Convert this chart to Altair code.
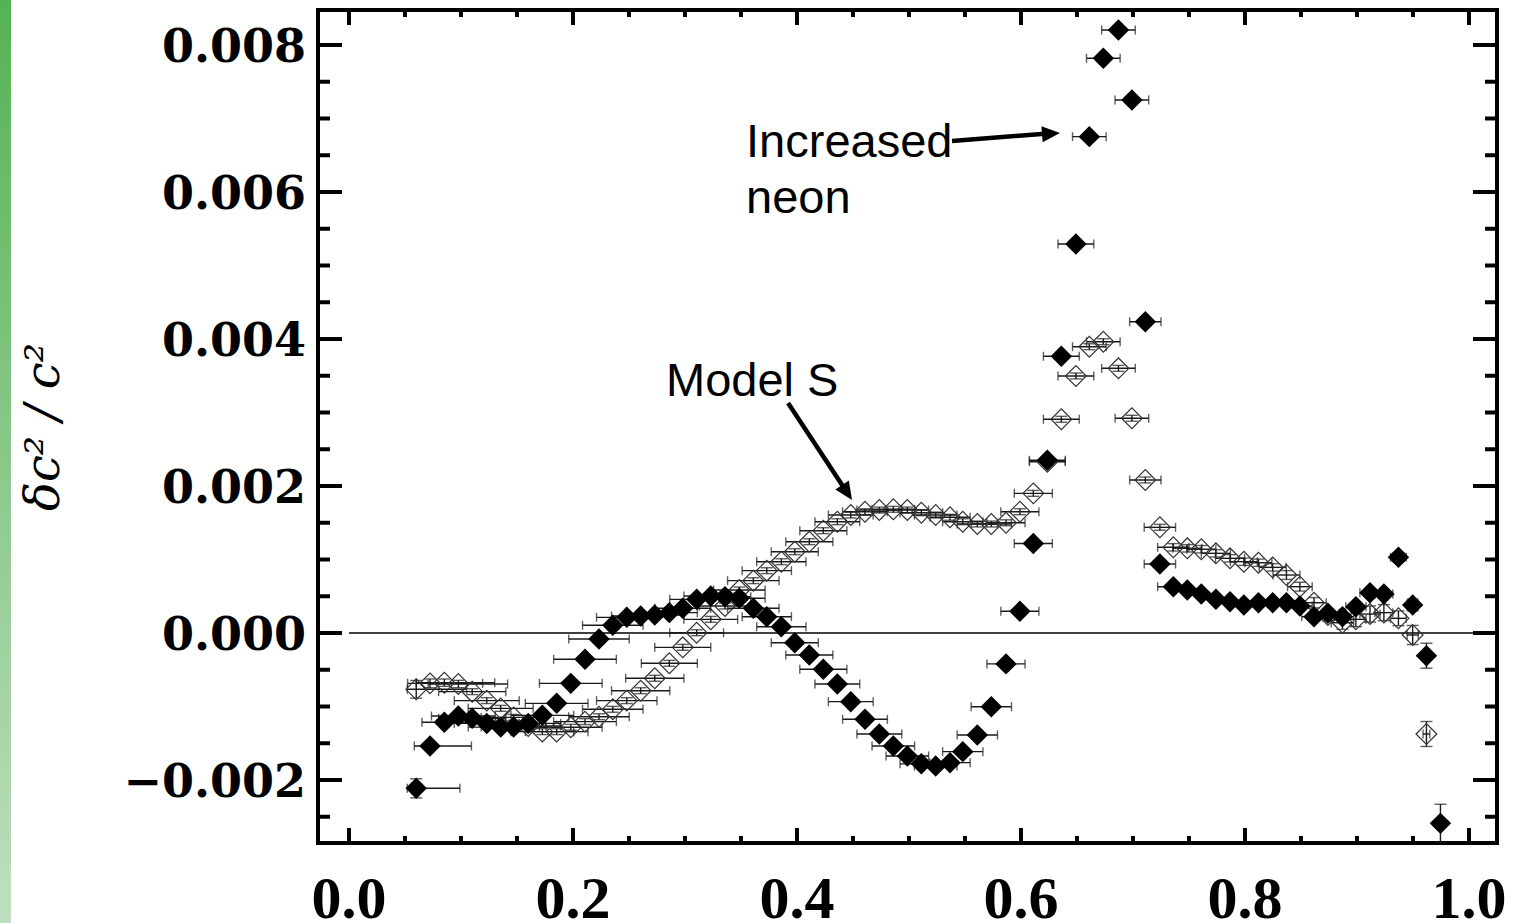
import altair as alt
import pandas as pd

# ---------------- data ----------------
X = [0.060, 0.0723, 0.0851, 0.0976, 0.110, 0.123, 0.1354, 0.147, 0.160, 0.1726,
     0.1854, 0.198, 0.2107, 0.2232, 0.2355, 0.248, 0.2604, 0.273, 0.286, 0.298,
     0.3104, 0.323, 0.3357, 0.3485, 0.361, 0.373, 0.386, 0.398, 0.411, 0.4235,
     0.436, 0.448, 0.4607, 0.4735, 0.486, 0.4985, 0.511, 0.5238, 0.5366, 0.548,
     0.561, 0.5735, 0.5866, 0.599, 0.611, 0.6235, 0.636, 0.649, 0.661, 0.6735,
     0.687, 0.699, 0.711, 0.724, 0.736, 0.7485, 0.761, 0.774, 0.7866, 0.799,
     0.812, 0.8247, 0.837, 0.849, 0.8616, 0.874, 0.887, 0.899, 0.9116, 0.924,
     0.937, 0.9497, 0.962, 0.9745]

Y_NEON = [-0.002113, -0.001537, -0.001215, -0.00113, -0.00116, -0.00123, -0.00128, -0.00128, -0.00123, -0.00112,
          -0.000957, -0.000685, -0.000358, -0.000082, 0.000105, 0.000213, 0.000231, 0.000245, 0.000277, 0.000336,
          0.000458, 0.000503, 0.000494, 0.000472, 0.000336, 0.000222, 0.000086, -0.000132, -0.000299, -0.000494,
          -0.000694, -0.000934, -0.001174, -0.001374, -0.001537, -0.001673, -0.00178, -0.00181, -0.001764, -0.001614,
          -0.001388, -0.001003, -0.00042, 0.000295, 0.001218, 0.00235, 0.003765, 0.005292, 0.006753, 0.007819,
          0.008204, 0.007252, 0.004235, 0.000939, 0.00063, 0.000585, 0.00053, 0.000458, 0.000426, 0.000381,
          0.000412, 0.000412, 0.000412, 0.000367, 0.000222, 0.000268, 0.000222, 0.000358, 0.000549, 0.00053,
          0.00103, 0.000381, -0.000309, -0.00259]

Y_MODEL_S = [-0.000766, -0.000685, -0.000676, -0.000694, -0.000798, -0.00092, -0.001025, -0.001148, -0.001265, -0.001342,
             -0.001342, -0.001283, -0.001206, -0.001139, -0.001038, -0.00092, -0.000785, -0.000616, -0.000412, -0.000195,
             0.000004, 0.000186, 0.000367, 0.000585, 0.000712, 0.000848, 0.00097, 0.001106, 0.001242, 0.001392,
             0.001514, 0.001605, 0.00165, 0.001673, 0.001683, 0.001673, 0.001637, 0.001605, 0.001574, 0.001514,
             0.001483, 0.001483, 0.0015, 0.00165, 0.0019, 0.00233, 0.002908, 0.003497, 0.003895, 0.003963,
             0.003601, 0.002922, 0.002082, 0.001438, 0.001166, 0.001152, 0.00114, 0.001084, 0.001016, 0.00097,
             0.000956, 0.000893, 0.000789, 0.00063, 0.000412, 0.000245, 0.00014, 0.000186, 0.000258, 0.000277,
             0.0002, -0.000027, -0.001374]

# horizontal error-bar half widths (resolution)
XW = [0.030, 0.030, 0.030, 0.030, 0.030, 0.029, 0.029, 0.029, 0.029, 0.028,
      0.028, 0.028, 0.028, 0.027, 0.027, 0.027, 0.026, 0.026, 0.025, 0.025,
      0.024, 0.024, 0.023, 0.023, 0.023, 0.022, 0.022, 0.021, 0.021, 0.021,
      0.020, 0.020, 0.020, 0.020, 0.019, 0.019, 0.019, 0.019, 0.018, 0.018,
      0.018, 0.018, 0.017, 0.017, 0.017, 0.016, 0.016, 0.016, 0.015, 0.015,
      0.015, 0.015, 0.014, 0.014, 0.014, 0.013, 0.013, 0.013, 0.013, 0.012,
      0.012, 0.012, 0.012, 0.011, 0.011, 0.010, 0.010, 0.009, 0.009, 0.008,
      0.007, 0.005, 0.003, 0.002]
LO_NEON_LEFT = [0.008, 0.014, 0.020, 0.024]
HI_NEON_LEFT = [0.039, 0.037, 0.035, 0.033]
LO_MODEL_LEFT = [0.008, 0.020, 0.025, 0.027]
HI_MODEL_LEFT = [0.045, 0.047, 0.045, 0.044]

YERR_NEON = [0.00013, 0.00005, 0.00004, 0.00004, 0.00004, 0.00004, 0.00004, 0.00004, 0.00004, 0.00004,
             0.00004, 0.00004, 0.00004, 0.00004, 0.00004, 0.00004, 0.00004, 0.00004, 0.00004, 0.00004,
             0.00004, 0.00004, 0.00004, 0.00004, 0.00004, 0.00004, 0.00004, 0.00004, 0.00004, 0.00004,
             0.00004, 0.00004, 0.00004, 0.00004, 0.00004, 0.00004, 0.00004, 0.00004, 0.00004, 0.00004,
             0.00004, 0.00004, 0.00004, 0.00004, 0.00004, 0.00004, 0.00004, 0.00004, 0.00004, 0.00004,
             0.00004, 0.00004, 0.00004, 0.00004, 0.00004, 0.00004, 0.00004, 0.00004, 0.00004, 0.00004,
             0.00004, 0.00004, 0.00004, 0.00004, 0.00004, 0.00004, 0.00004, 0.00005, 0.00005, 0.00005,
             0.00006, 0.00008, 0.00017, 0.00026]
YERR_MODEL_S = [0.00012, 0.00006, 0.00005, 0.00005, 0.00004, 0.00004, 0.00004, 0.00004, 0.00004, 0.00004,
                0.00004, 0.00004, 0.00004, 0.00004, 0.00004, 0.00004, 0.00004, 0.00004, 0.00004, 0.00004,
                0.00004, 0.00004, 0.00004, 0.00004, 0.00004, 0.00004, 0.00004, 0.00004, 0.00004, 0.00004,
                0.00004, 0.00004, 0.00004, 0.00004, 0.00004, 0.00004, 0.00004, 0.00004, 0.00004, 0.00004,
                0.00004, 0.00004, 0.00004, 0.00004, 0.00004, 0.00004, 0.00004, 0.00004, 0.00004, 0.00004,
                0.00004, 0.00004, 0.00004, 0.00004, 0.00005, 0.00005, 0.00005, 0.00005, 0.00005, 0.00005,
                0.00005, 0.00005, 0.00006, 0.00006, 0.00007, 0.00008, 0.00009, 0.00010, 0.00011, 0.00011,
                0.00010, 0.00013, 0.00017]

X_TICKS_MAJOR = [0.0, 0.2, 0.4, 0.6, 0.8, 1.0]
X_TICK_LABELS = ["0.0", "0.2", "0.4", "0.6", "0.8", "1.0"]
X_TICKS_MINOR = [0.05, 0.1, 0.15, 0.25, 0.3, 0.35, 0.45, 0.5, 0.55, 0.65, 0.7, 0.75, 0.85, 0.9, 0.95]
Y_TICKS_MAJOR = [-0.002, 0.0, 0.002, 0.004, 0.006, 0.008]
Y_TICK_LABELS = ["\u22120.002", "0.000", "0.002", "0.004", "0.006", "0.008"]
Y_TICKS_MINOR = [-0.0025, -0.0015, -0.001, -0.0005, 0.0005, 0.001, 0.0015, 0.0025, 0.003, 0.0035,
                 0.0045, 0.005, 0.0055, 0.0065, 0.007, 0.0075]
Y_TITLE = "δc² / c²"

X_DOMAIN = [-0.0277, 1.025]
Y_DOMAIN = [-0.002857, 0.008476]

LABELS = ["Increased", "neon", "Model S"]
LABEL_X = [0.3545, 0.3545, 0.2830]
LABEL_Y = [0.006476, 0.005714, 0.003224]

ARROW_X = [0.5384, 0.3920]
ARROW_Y = [0.006694, 0.003129]
ARROW_X2 = [0.6241, 0.4432]
ARROW_Y2 = [0.006796, 0.001946]
TIP_X = [0.6348, 0.4491]
TIP_Y = [0.006803, 0.001809]
TIP_ANGLE = [355.8, 56.6]

# ---------------- layout ----------------
W, H = 1179, 833
PAD_L, PAD_T = 318, 10

xs = alt.Scale(domain=X_DOMAIN, nice=False, zero=False)
ys = alt.Scale(domain=Y_DOMAIN, nice=False, zero=False)


def ex(f):
    return alt.X(f, type="quantitative", scale=xs, axis=None)


def ey(f):
    return alt.Y(f, type="quantitative", scale=ys, axis=None)


def series_df(yv, lo_left, hi_left, yerr):
    rows = []
    for i, y in enumerate(yv):
        x = X[i]
        lo = lo_left[i] if i < len(lo_left) else XW[i]
        hi = hi_left[i] if i < len(hi_left) else XW[i]
        rows.append(dict(x=x, y=y, xlo=x - lo, xhi=x + hi,
                         ylo=y - yerr[i], yhi=y + yerr[i]))
    return pd.DataFrame(rows)


df_neon = series_df(Y_NEON, LO_NEON_LEFT, HI_NEON_LEFT, YERR_NEON)
df_model = series_df(Y_MODEL_S, LO_MODEL_LEFT, HI_MODEL_LEFT, YERR_MODEL_S)

EC = "#1a1a1a"


def errbars(df):
    b = alt.Chart(df)
    return [
        b.mark_rule(color=EC, strokeWidth=1.4).encode(x=ex("xlo"), x2="xhi", y=ey("y")),
        b.mark_tick(orient="vertical", size=9, thickness=1.4, color=EC).encode(x=ex("xlo"), y=ey("y")),
        b.mark_tick(orient="vertical", size=9, thickness=1.4, color=EC).encode(x=ex("xhi"), y=ey("y")),
        b.mark_rule(color=EC, strokeWidth=1.4).encode(x=ex("x"), y=ey("ylo"), y2="yhi"),
        b.mark_tick(orient="horizontal", size=12, thickness=1.4, color=EC).encode(x=ex("x"), y=ey("ylo")),
        b.mark_tick(orient="horizontal", size=12, thickness=1.4, color=EC).encode(x=ex("x"), y=ey("yhi")),
    ]


# green decorative strip on the left edge
strip = alt.Chart(pd.DataFrame({"a": [0]})).mark_rect(
    color=alt.Gradient(gradient="linear",
                       stops=[alt.GradientStop(color="#55b255", offset=0),
                              alt.GradientStop(color="#bfdfbf", offset=1)],
                       x1=0, x2=0, y1=0, y2=1)
).encode(x=alt.value(-PAD_L), x2=alt.value(-PAD_L + 11), y=alt.value(-PAD_T), y2=alt.value(923 - PAD_T))

zero = alt.Chart(pd.DataFrame({"x": [0.0], "x2": [X_DOMAIN[1]], "y": [0.0]})).mark_rule(
    color="black", strokeWidth=1.3).encode(x=ex("x"), x2="x2", y=ey("y"))

model_pts = alt.Chart(df_model).mark_point(shape="diamond", filled=False, size=430, color="#333333",
                                          strokeWidth=1.2, opacity=1).encode(x=ex("x"), y=ey("y"))
neon_pts = alt.Chart(df_neon).mark_point(shape="diamond", filled=True, size=460, color="black",
                                        opacity=1).encode(x=ex("x"), y=ey("y"))

# inward ticks on all four sides
txM = alt.Chart(pd.DataFrame({"v": X_TICKS_MAJOR, "lab": X_TICK_LABELS}))
txm = alt.Chart(pd.DataFrame({"v": X_TICKS_MINOR}))
tyM = alt.Chart(pd.DataFrame({"v": Y_TICKS_MAJOR, "lab": Y_TICK_LABELS}))
tym = alt.Chart(pd.DataFrame({"v": Y_TICKS_MINOR}))
TW = 4
ticks = [
    txM.mark_rule(color="black", strokeWidth=TW).encode(x=ex("v"), y=alt.value(H), y2=alt.value(H - 15)),
    txM.mark_rule(color="black", strokeWidth=TW).encode(x=ex("v"), y=alt.value(0), y2=alt.value(15)),
    txm.mark_rule(color="black", strokeWidth=TW).encode(x=ex("v"), y=alt.value(H), y2=alt.value(H - 7)),
    txm.mark_rule(color="black", strokeWidth=TW).encode(x=ex("v"), y=alt.value(0), y2=alt.value(7)),
    tyM.mark_rule(color="black", strokeWidth=TW).encode(y=ey("v"), x=alt.value(0), x2=alt.value(24)),
    tyM.mark_rule(color="black", strokeWidth=TW).encode(y=ey("v"), x=alt.value(W), x2=alt.value(W - 24)),
    tym.mark_rule(color="black", strokeWidth=TW).encode(y=ey("v"), x=alt.value(0), x2=alt.value(12)),
    tym.mark_rule(color="black", strokeWidth=TW).encode(y=ey("v"), x=alt.value(W), x2=alt.value(W - 12)),
]

# tick labels and axis title as text
x_labels = txM.mark_text(align="center", baseline="alphabetic", font="Liberation Serif", fontWeight="bold",
                         fontSize=60, color="black").encode(x=ex("v"), y=alt.value(H + 75), text="lab:N")
y_labels = tyM.mark_text(align="right", baseline="middle", font="DejaVu Serif", fontWeight="bold",
                         fontSize=46, dy=3, color="black").encode(y=ey("v"), x=alt.value(-12), text="lab:N")
y_title = alt.Chart(pd.DataFrame({"t": [Y_TITLE]})).mark_text(
    align="center", baseline="middle", angle=270, font="DejaVu Serif", fontStyle="italic",
    fontSize=48, color="black").encode(x=alt.value(45 - PAD_L), y=alt.value(427 - PAD_T), text="t:N")

texts = alt.Chart(pd.DataFrame({"x": LABEL_X, "y": LABEL_Y, "t": LABELS})).mark_text(
    align="left", baseline="alphabetic", font="Liberation Sans", fontSize=47, color="black"
).encode(x=ex("x"), y=ey("y"), text="t:N")

arrows_df = pd.DataFrame({"x": ARROW_X, "y": ARROW_Y, "x2": ARROW_X2, "y2": ARROW_Y2,
                          "tx": TIP_X, "ty": TIP_Y, "ang": TIP_ANGLE})
arrow_lines = alt.Chart(arrows_df).mark_rule(color="black", strokeWidth=4.5, strokeCap="butt").encode(
    x=ex("x"), y=ey("y"), x2="x2", y2="y2")
arrow_heads = alt.Chart(arrows_df).mark_point(shape="M0,0L-2,-0.9L-2,0.9Z", filled=True, size=324,
                                              color="black", opacity=1).encode(
    x=ex("tx"), y=ey("ty"), angle=alt.Angle("ang:Q", scale=None))

layers = [strip, zero] + errbars(df_model) + [model_pts] + errbars(df_neon) + [neon_pts] \
    + ticks + [x_labels, y_labels, y_title, texts, arrow_lines, arrow_heads]

chart = alt.layer(*layers).properties(
    width=W, height=H,
    padding={"left": PAD_L, "top": PAD_T, "right": 1514 - PAD_L - W, "bottom": 923 - PAD_T - H},
    autosize="none",
    background="white",
).configure_view(stroke="black", strokeWidth=4)

chart.save("out.html", embed_options={"renderer": "svg", "actions": False})
